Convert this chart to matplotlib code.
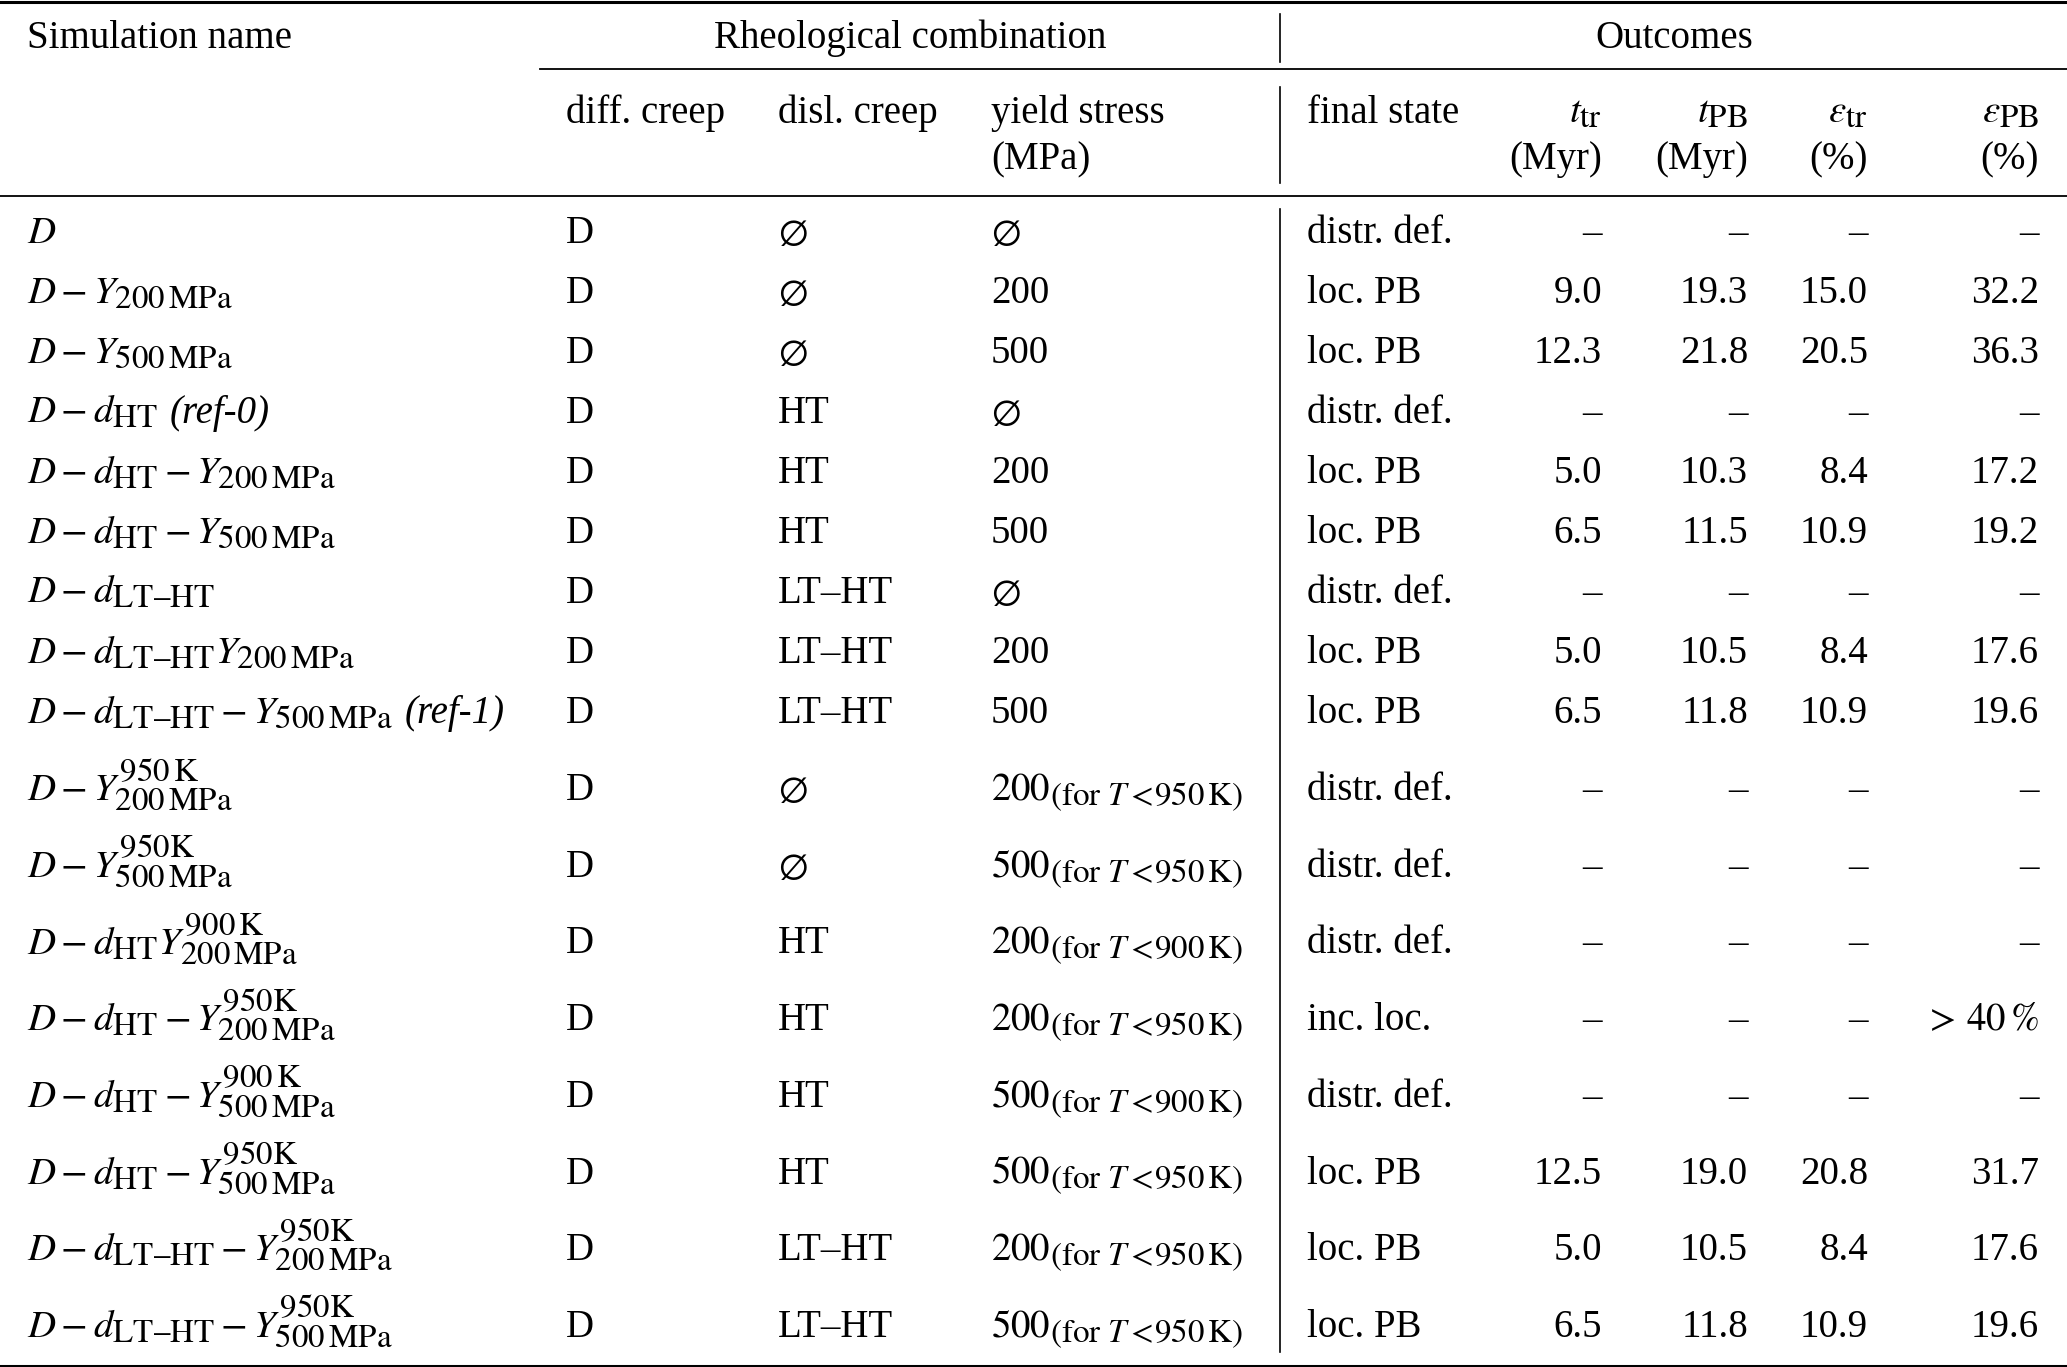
import numpy as np
import matplotlib
matplotlib.use("Agg")
import matplotlib.pyplot as plt
import matplotlib._mathtext as mtext

plt.rcParams['font.family'] = ['Liberation Serif', 'DejaVu Serif']
plt.rcParams['mathtext.fontset'] = 'stix'
# LaTeX subscripts in the source look bigger than mathtext's default 0.7
mtext.SHRINK_FACTOR = 0.85
FS = 28

# table content
sim_names = [
    r"$D$",
    r"$D - Y_{200\,\mathrm{MPa}}$",
    r"$D - Y_{500\,\mathrm{MPa}}$",
    r"$D - d_{\mathrm{HT}}$",
    r"$D - d_{\mathrm{HT}} - Y_{200\,\mathrm{MPa}}$",
    r"$D - d_{\mathrm{HT}} - Y_{500\,\mathrm{MPa}}$",
    r"$D - d_{\mathrm{LT–HT}}$",
    r"$D - d_{\mathrm{LT–HT}}Y_{200\,\mathrm{MPa}}$",
    r"$D - d_{\mathrm{LT–HT}} - Y_{500\,\mathrm{MPa}}$",
    r"$D - Y^{950\,\mathrm{K}}_{200\,\mathrm{MPa}}$",
    r"$D - Y^{950\mathrm{K}}_{500\,\mathrm{MPa}}$",
    r"$D - d_{\mathrm{HT}}Y^{900\,\mathrm{K}}_{200\,\mathrm{MPa}}$",
    r"$D - d_{\mathrm{HT}} - Y^{950\mathrm{K}}_{200\,\mathrm{MPa}}$",
    r"$D - d_{\mathrm{HT}} - Y^{900\,\mathrm{K}}_{500\,\mathrm{MPa}}$",
    r"$D - d_{\mathrm{HT}} - Y^{950\mathrm{K}}_{500\,\mathrm{MPa}}$",
    r"$D - d_{\mathrm{LT–HT}} - Y^{950\mathrm{K}}_{200\,\mathrm{MPa}}$",
    r"$D - d_{\mathrm{LT–HT}} - Y^{950\mathrm{K}}_{500\,\mathrm{MPa}}$",
]
ref_notes = ["", "", "", "(ref-0)", "", "", "", "", "(ref-1)",
             "", "", "", "", "", "", "", ""]
diff_creep = ["D"] * 17
disl_creep = [None, None, None, "HT", "HT", "HT", "LT–HT", "LT–HT", "LT–HT",
              None, None, "HT", "HT", "HT", "HT", "LT–HT", "LT–HT"]
yield_stress = [None, 200, 500, None, 200, 500, None, 200, 500,
                200, 500, 200, 200, 500, 500, 200, 500]
yield_temp = [None] * 9 + [950, 950, 900, 950, 900, 950, 950, 950]
final_state = ["distr. def.", "loc. PB", "loc. PB", "distr. def.", "loc. PB",
               "loc. PB", "distr. def.", "loc. PB", "loc. PB", "distr. def.",
               "distr. def.", "distr. def.", "inc. loc.", "distr. def.",
               "loc. PB", "loc. PB", "loc. PB"]
t_tr = [None, 9.0, 12.3, None, 5.0, 6.5, None, 5.0, 6.5,
        None, None, None, None, None, 12.5, 5.0, 6.5]
t_pb = [None, 19.3, 21.8, None, 10.3, 11.5, None, 10.5, 11.8,
        None, None, None, None, None, 19.0, 10.5, 11.8]
eps_tr = [None, 15.0, 20.5, None, 8.4, 10.9, None, 8.4, 10.9,
          None, None, None, None, None, 20.8, 8.4, 10.9]
eps_pb = [None, 32.2, 36.3, None, 17.2, 19.2, None, 17.6, 19.6,
          None, None, None, r"$>\,40\,\%$", None, 31.7, 17.6, 19.6]

W, H = 2067, 1367
fig = plt.figure(figsize=(W / 100, H / 100), dpi=100)
ax = fig.add_axes([0, 0, 1, 1])
ax.set_xlim(0, W)
ax.set_ylim(H, 0)
ax.axis('off')

# column positions
x_name, x_diff, x_disl, x_yield, x_final = 27, 566, 778, 991, 1307
x_num = [1602, 1748, 1868, 2039]
x_sep = 1280

# rules
ax.plot([0, W], [1.5, 1.5], color='black', lw=2.2)
ax.plot([540, W], [69, 69], color='black', lw=1.3)
ax.plot([0, W], [196, 196], color='black', lw=1.3)
ax.plot([0, W], [1365.5, 1365.5], color='black', lw=2.2)
for y0, y1 in [(14, 62), (87, 183), (209, 1352)]:
    ax.plot([x_sep, x_sep], [y0, y1], color='black', lw=1.2)

def txt(x, y, s, ha='left', **kw):
    return ax.text(x, y, s, ha=ha, va='baseline', fontsize=FS, **kw)

# header
txt(x_name, 48, "Simulation name")
txt(910, 48, "Rheological combination", ha='center')
txt(1674, 48, "Outcomes", ha='center')
txt(x_diff, 123, "diff. creep")
txt(x_disl, 123, "disl. creep")
txt(x_yield, 123, "yield stress")
txt(x_yield, 169, "(MPa)")
txt(x_final, 123, "final state")
heads = [r"$t_{\mathrm{tr}}$", r"$t_{\mathrm{PB}}$",
         r"$\varepsilon_{\mathrm{tr}}$", r"$\varepsilon_{\mathrm{PB}}$"]
units = ["(Myr)", "(Myr)", "(%)", "(%)"]
for xx, h, u in zip(x_num, heads, units):
    txt(xx, 123, h, ha='right')
    txt(xx, 169, u, ha='right')

renderer = fig.canvas.get_renderer()
inv = ax.transData.inverted()

def cell(v):
    if v is None:
        return "–"
    if isinstance(v, str):
        return v
    return f"{v:.1f}"

for i in range(len(sim_names)):
    y = 243 + 60 * i if i < 9 else 800 + 76.7 * (i - 9)
    t = txt(x_name, y, sim_names[i])
    if ref_notes[i]:
        bb = t.get_window_extent(renderer)
        xe = inv.transform((bb.x1, bb.y0))[0]
        txt(xe + 12, y, ref_notes[i], style='italic')
    txt(x_diff, y, diff_creep[i])
    txt(x_disl, y, disl_creep[i] if disl_creep[i] else r"$\emptyset$")
    if yield_stress[i] is None:
        ys = r"$\emptyset$"
    elif yield_temp[i] is None:
        ys = str(yield_stress[i])
    else:
        ys = (r"$%d_{(\mathrm{for}\ T<\!%d\,\mathrm{K})}$"
              % (yield_stress[i], yield_temp[i]))
    txt(x_yield, y, ys)
    txt(x_final, y, final_state[i])
    for xx, col in zip(x_num, [t_tr, t_pb, eps_tr, eps_pb]):
        txt(xx, y, cell(col[i]), ha='right')

fig.savefig("out.png", dpi=100)
